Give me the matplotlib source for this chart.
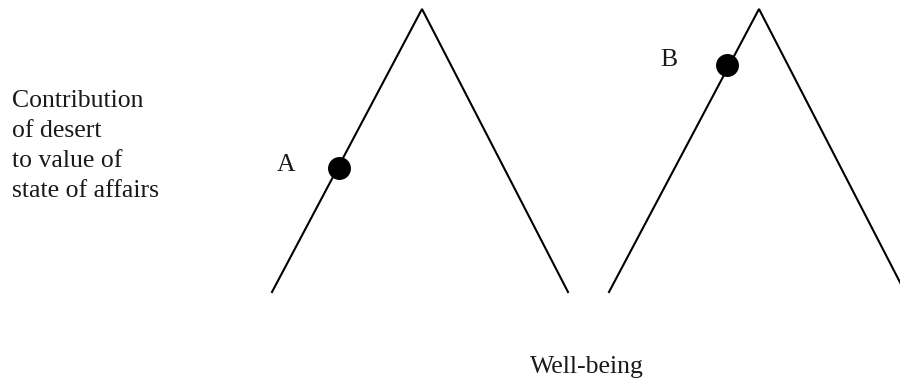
import matplotlib
matplotlib.use("Agg")
import matplotlib.pyplot as plt

# two "mountain" curves: x of left foot, peak, right foot (pixel space)
left_x = [272, 422, 568]
right_x = [609, 759, 905]
curve_y = [292, 9, 292]

# marked points on the rising legs
point_names = ["A", "B"]
point_x = [339, 727]
point_y = [168, 65]

y_label = ["Contribution", "of desert", "to value of", "state of affairs"]
x_label = "Well-being"

plt.rcParams['font.family'] = ['Liberation Serif', 'DejaVu Serif']

fig = plt.figure(figsize=(9, 3.81), dpi=100)
ax = fig.add_axes([0, 0, 1, 1])
ax.set_xlim(0, 900)
ax.set_ylim(381, 0)
ax.axis('off')

ax.plot(left_x, curve_y, color='black', linewidth=1.5, solid_joinstyle='miter')
ax.plot(right_x, curve_y, color='black', linewidth=1.5, solid_joinstyle='miter')
ax.plot(point_x, point_y, 'o', color='black', markersize=15.5, linestyle='none')

fs = 18.5
txt = '#1a1a1a'
for name, lx, ly in zip(point_names, [277, 660], [171, 66]):
    ax.text(lx, ly, name, fontsize=fs, color=txt, ha='left', va='baseline')

for i, line in enumerate(y_label):
    ax.text(12, 107 + 30 * i, line, fontsize=fs, color=txt, ha='left', va='baseline')

ax.text(587, 373, x_label, fontsize=fs, color=txt, ha='center', va='baseline')

fig.savefig('out.png', dpi=100)
